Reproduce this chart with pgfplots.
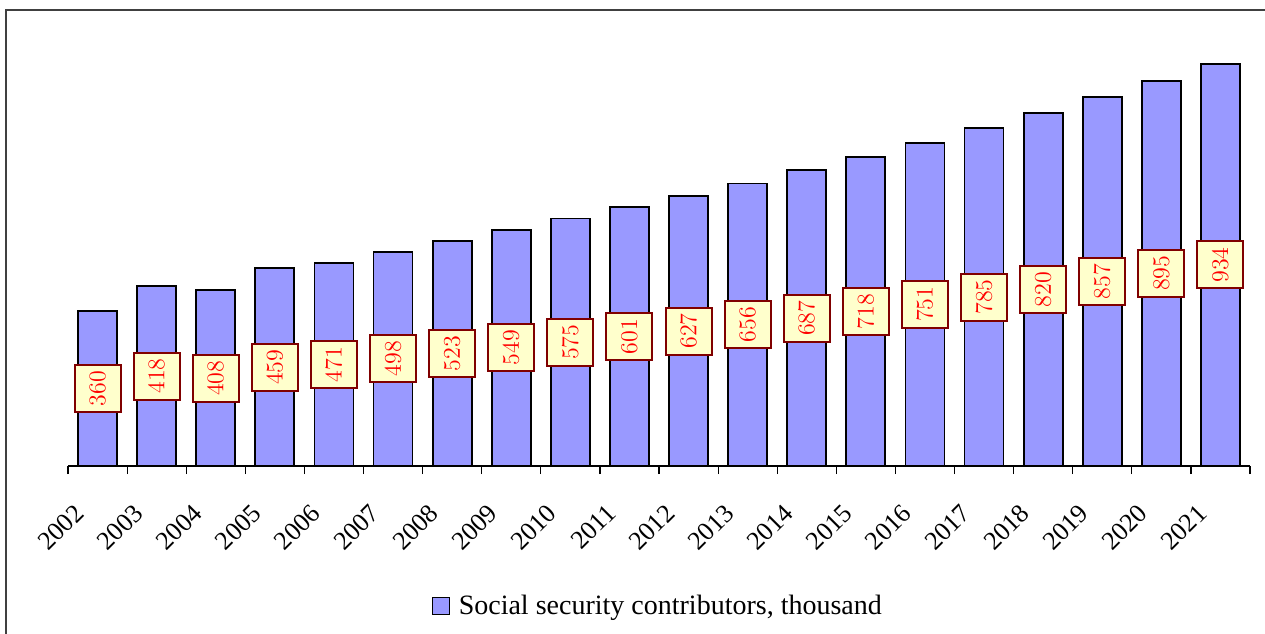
\documentclass[border=0pt]{standalone}
\usepackage{pgfplots}
\pgfplotsset{compat=1.18}
\usepackage{pgfplotstable}
\usepackage{fontspec}
\setmainfont{Liberation Serif}
\definecolor{barcol}{HTML}{9999FF}
\definecolor{boxfill}{HTML}{FFFFCC}
\definecolor{boxdraw}{HTML}{800000}
\definecolor{frame}{HTML}{404040}
\pgfplotstableread{
x year v
0 2002 360
1 2003 418
2 2004 408
3 2005 459
4 2006 471
5 2007 498
6 2008 523
7 2009 549
8 2010 575
9 2011 601
10 2012 627
11 2013 656
12 2014 687
13 2015 718
14 2016 751
15 2017 785
16 2018 820
17 2019 857
18 2020 895
19 2021 934
}\data
\begin{document}
\begin{tikzpicture}
\path[use as bounding box] (0,0) rectangle (632.5pt,316.5pt);
\draw[frame, line width=1pt] (3pt,-5pt) -- (3pt,311.5pt) -- (640pt,311.5pt);
\begin{axis}[
  at={(34pt,83.5pt)}, anchor=south west,
  scale only axis,
  width=591pt, height=204.5pt,
  xmin=-0.5, xmax=19.5,
  ymin=0, ymax=950,
  axis x line=bottom, axis y line=none,
  x axis line style={-, line width=0.6pt, black},
  xtick={0,...,19},
  xticklabels={2002,2003,2004,2005,2006,2007,2008,2009,2010,2011,2012,2013,2014,2015,2016,2017,2018,2019,2020,2021},
  major x tick style={draw=none},
  minor xtick={-0.5,0.5,...,19.5},
  minor x tick style={black, line width=0.6pt},
  minor tick length=4pt,
  tick align=outside,
  xticklabel style={xshift=-9pt, yshift=-17pt, rotate=45, anchor=east, font=\fontsize{13}{15}\selectfont, inner sep=0pt},
  ytick={100,200,...,900},
  yticklabels={},
  major y tick style={draw=none},
  ymajorgrids,
  grid style={black, line width=0.6pt},
  legend style={at={(0.5,-0.342)}, anchor=center, draw=none, fill=none,
    font=\fontsize{14}{16}\selectfont, legend cell align=left},
  legend image code/.code={\path[draw=none, fill=none] (0pt,0pt) -- (11pt,0pt); \draw[fill=barcol, draw=black, line width=0.6pt] (0pt,-4.25pt) rectangle (8.5pt,4.25pt);},
]
\addplot[ybar, bar width=19.5pt, fill=barcol, draw=black, line width=0.9pt] table[x=x, y=v] {\data};
\addlegendentry{Social security contributors, thousand}
\addplot[forget plot, draw=none, mark=none,
  nodes near coords, point meta=explicit,
  nodes near coords align={center},
  every node near coord/.style={anchor=center, rotate=90, fill=boxfill, draw=boxdraw, line width=1pt,
    text=red, font=\fontsize{12}{13}\selectfont, minimum width=23.5pt, minimum height=23pt, inner sep=1pt}
] table[x=x, y expr=\thisrow{v}/2, meta=v] {\data};
\end{axis}
\end{tikzpicture}
\end{document}
